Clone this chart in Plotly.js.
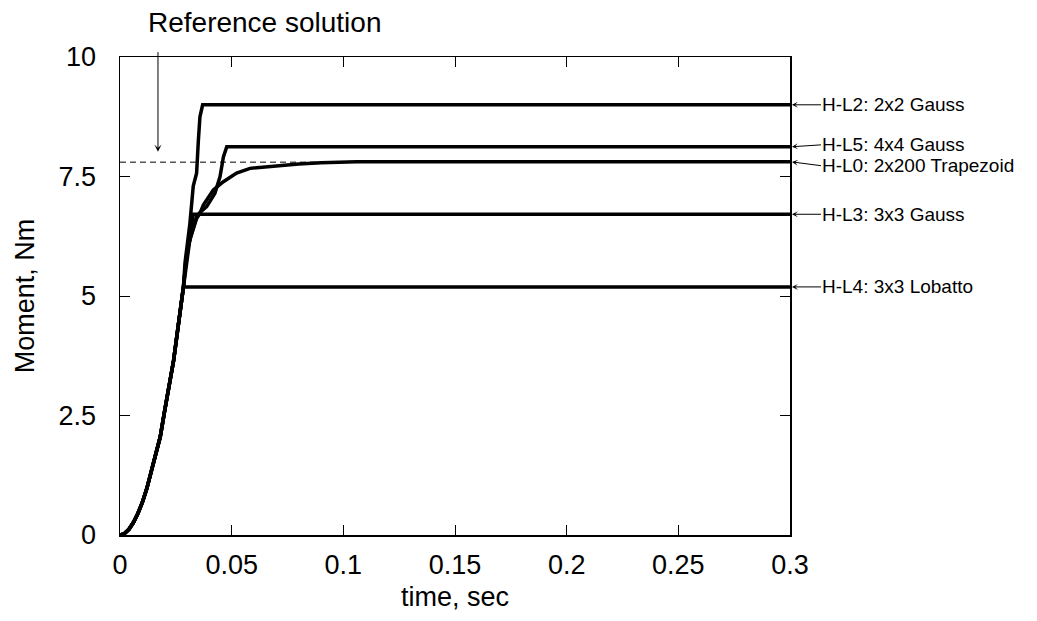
<!DOCTYPE html>
<html>
<head>
<meta charset="utf-8">
<script src="https://cdn.plot.ly/plotly-3.0.1.min.js"></script>
<style>html,body{margin:0;padding:0;background:#fff;}</style>
</head>
<body>
<div id="chart" style="width:1037px;height:621px;"></div>
<script>
// Shared initial rise (time in s, moment in Nm)
const baseT = [0, 0.002, 0.004, 0.006, 0.008, 0.010, 0.012, 0.014, 0.016, 0.018, 0.020, 0.022, 0.024, 0.026, 0.0284];
const baseM = [0, 0.03, 0.12, 0.26, 0.45, 0.68, 0.97, 1.32, 1.68, 2.05, 2.6, 3.15, 3.65, 4.35, 5.19];

// Branches after the shared rise
const l4T = [0.3];
const l4M = [5.19];
const l3T = [0.0299, 0.0313, 0.0328, 0.3];
const l3M = [5.7, 6.18, 6.71, 6.71];
const l2T = [0.0291, 0.0313, 0.0328, 0.0343, 0.0351, 0.0358, 0.037, 0.3];
const l2M = [5.69, 6.52, 7.3, 7.57, 8.26, 8.75, 9.0, 9.0];
const l5T = [0.0299, 0.0313, 0.0343, 0.0358, 0.0388, 0.0425, 0.0448, 0.0463, 0.0478, 0.3];
const l5M = [5.89, 6.18, 6.66, 6.75, 6.87, 7.15, 7.5, 7.91, 8.12, 8.12];
const l0T = [0.0299, 0.0313, 0.0343, 0.0358, 0.0373, 0.0388, 0.0418, 0.0463, 0.0522, 0.0582, 0.0687, 0.08, 0.09, 0.1, 0.106, 0.3];
const l0M = [5.89, 6.18, 6.62, 6.73, 6.9, 7.01, 7.22, 7.39, 7.57, 7.67, 7.72, 7.76, 7.79, 7.8, 7.81, 7.81];

// Reference solution (dashed)
const refT = [0, 0.3];
const refM = [7.8, 7.8];

// Right-hand labels and the levels they point to
const labelText = ['H-L2: 2x2 Gauss', 'H-L5: 4x4 Gauss', 'H-L0: 2x200 Trapezoid', 'H-L3: 3x3 Gauss', 'H-L4: 3x3 Lobatto'];
const labelLevel = [9.0, 8.12, 7.81, 6.71, 5.19];
const labelShift = [0, -2, 4, 0, 0];

const xTicks = [0, 0.05, 0.1, 0.15, 0.2, 0.25, 0.3];
const yTicks = [0, 2.5, 5, 7.5, 10];

const lineStyle = {color: '#000', width: 3.5};
function series(t, m) {
  return {x: baseT.concat(t), y: baseM.concat(m), mode: 'lines', line: lineStyle, hoverinfo: 'skip'};
}

const data = [
  {x: refT, y: refM, mode: 'lines', line: {color: '#000', width: 1, dash: '6px,4px'}, hoverinfo: 'skip'},
  series(l4T, l4M),
  series(l3T, l3M),
  series(l2T, l2M),
  series(l5T, l5M),
  series(l0T, l0M)
];

const annotations = labelText.map((txt, i) => ({
  x: 0.3, y: labelLevel[i], xref: 'x', yref: 'y',
  text: txt, showarrow: true, ax: 31, ay: labelShift[i],
  xanchor: 'left', yanchor: 'middle', borderpad: 0,
  arrowhead: 3, arrowsize: 1, arrowwidth: 1, arrowcolor: '#000', standoff: 2,
  font: {size: 19, color: '#000'}
}));
annotations.push({
  x: 0.017, y: 8.02, xref: 'x', yref: 'y', text: ' ', showarrow: true,
  ax: 0, ay: -108, arrowhead: 3, arrowsize: 1.2, arrowwidth: 1, arrowcolor: '#000', standoff: 0
});
annotations.push({
  x: 0.216, y: 1.073, xref: 'paper', yref: 'paper', text: 'Reference solution',
  showarrow: false, xanchor: 'center', yanchor: 'middle', font: {size: 28, color: '#000'}
});

const axisCommon = {
  ticks: 'inside', ticklen: 10, tickwidth: 1, tickcolor: '#000',
  showline: true, linecolor: '#000', linewidth: 1.5, mirror: 'ticks',
  showgrid: false, zeroline: false, tickfont: {size: 27, color: '#000'}
};

const layout = {
  width: 1037, height: 621,
  margin: {l: 120, r: 247, t: 57, b: 86},
  paper_bgcolor: '#fff', plot_bgcolor: '#fff',
  showlegend: false,
  font: {family: 'Liberation Sans, Arial, sans-serif', color: '#000'},
  xaxis: Object.assign({}, axisCommon, {
    range: [0, 0.3], tickvals: xTicks, ticktext: xTicks.map(String),
    ticklabelstandoff: 5,
    title: {text: 'time, sec', font: {size: 27}, standoff: 8}
  }),
  yaxis: Object.assign({}, axisCommon, {
    range: [0, 10], tickvals: yTicks, ticktext: yTicks.map(String),
    ticklabelstandoff: 17,
    title: {text: 'Moment, Nm', font: {size: 27}, standoff: 16}
  }),
  annotations: annotations
};

Plotly.newPlot('chart', data, layout, {staticPlot: true, displayModeBar: false});
</script>
</body>
</html>
